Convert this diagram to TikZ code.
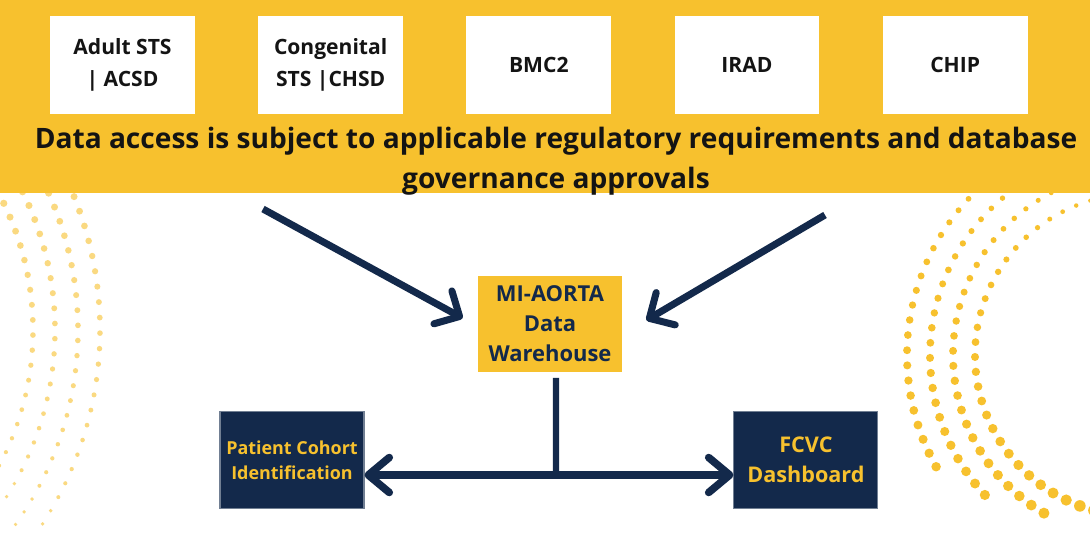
\documentclass[tikz,border=0pt]{standalone}
\usepackage{fontspec}
\setmainfont{Open Sans}
\usetikzlibrary{arrows.meta, positioning, calc}
\definecolor{mayellow}{HTML}{F7C12E}
\definecolor{manavy}{HTML}{13294B}
\definecolor{matext}{HTML}{141414}

\begin{document}
\begin{tikzpicture}[x=0.02cm, y=-0.02cm,
    srcbox/.style={rectangle, fill=white, minimum width=2.9cm, minimum height=1.96cm, align=center, text=matext, font=\fontsize{12}{18.2}\selectfont\bfseries},
    hubbox/.style={rectangle, fill=mayellow, minimum width=2.88cm, minimum height=1.94cm, align=center, text=manavy, font=\fontsize{12.5}{17}\selectfont\bfseries},
    outbox/.style={rectangle, fill=manavy, draw=manavy!60!white, line width=0.6pt, minimum width=2.88cm, minimum height=1.94cm, align=center, text=mayellow},
    flow/.style={draw=manavy, line width=4pt, -{Straight Barb[length=0.38cm, width=0.75cm, round]}},
    flowboth/.style={draw=manavy, line width=4.3pt, {Straight Barb[length=0.42cm, width=0.7cm, round]}-{Straight Barb[length=0.42cm, width=0.7cm, round]}},
    trunk/.style={draw=manavy, line width=3.6pt},
    lightdot/.style={fill=mayellow, opacity=0.6},
    solidot/.style={fill=mayellow}]
    \clip (0,0) rectangle (1090,532);
    \fill[white] (0,0) rectangle (1090,532);

    % dotted arcs
    \foreach \R/\dt in {356/2.5, 334/2.6, 311/2.8, 289/3.0}{
        \foreach \n in {0,...,30}{
            \pgfmathsetmacro{\t}{32-\n*\dt}
            \pgfmathsetmacro{\dr}{3.8-0.03*(32-\t)}
            \fill[lightdot] ({-256+\R*cos(\t)},{330-\R*sin(\t)}) circle[radius=\dr];
        }
    }
    \foreach \R/\dt in {229/3.8, 206/4.2, 183/4.7, 161/5.3}{
        \foreach \n in {0,...,34}{
            \pgfmathsetmacro{\t}{80+\n*\dt}
            \pgfmathsetmacro{\dr}{max(1.8,2.2+3.2*(\t-110)/125)}
            \fill[solidot] ({1136+\R*cos(\t)},{355-\R*sin(\t)}) circle[radius=\dr];
        }
    }

    \fill[mayellow] (0,0) rectangle (1090,193);

    \node[srcbox] (acsd) at (122.5,65) {Adult STS\\| ACSD};
    \node[srcbox, right=1.25cm of acsd] (chsd) {Congenital\\STS |CHSD};
    \node[srcbox, right=1.25cm of chsd] (bmc) {BMC2};
    \node[srcbox, right=1.25cm of bmc] (irad) {IRAD};
    \node[srcbox, right=1.25cm of irad] (chip) {CHIP};
    \node[font=\fontsize{16}{22.8}\selectfont\bfseries, text=matext, align=center] (note) at (556,161)
        {Data access is subject to applicable regulatory requirements and database\\governance approvals};

    \node[hubbox] (wh) at (550,324) {MI-AORTA\\Data\\Warehouse};
    \node[outbox, font=\fontsize{10.2}{14.2}\selectfont\bfseries] (cohort) at (292,460) {Patient Cohort\\Identification};
    \node[outbox, font=\fontsize{12.3}{17}\selectfont\bfseries, right=7.38cm of cohort] (fcvc) {FCVC\\Dashboard};

    \coordinate (srcL) at (263,209);
    \coordinate (srcR) at (825,215);
    \coordinate (split) at (556,475);
    \draw[flow] (srcL) -- ([shift={(-0.3cm,-0.86cm)}]wh.north west);
    \draw[flow] (srcR) -- ([shift={(0.48cm,-0.9cm)}]wh.north east);
    \draw[trunk] ([xshift=0.12cm, yshift=-0.1cm]wh.south) -- (split);
    \draw[flowboth] (cohort.east |- split) -- (fcvc.west |- split);
\end{tikzpicture}
\end{document}
